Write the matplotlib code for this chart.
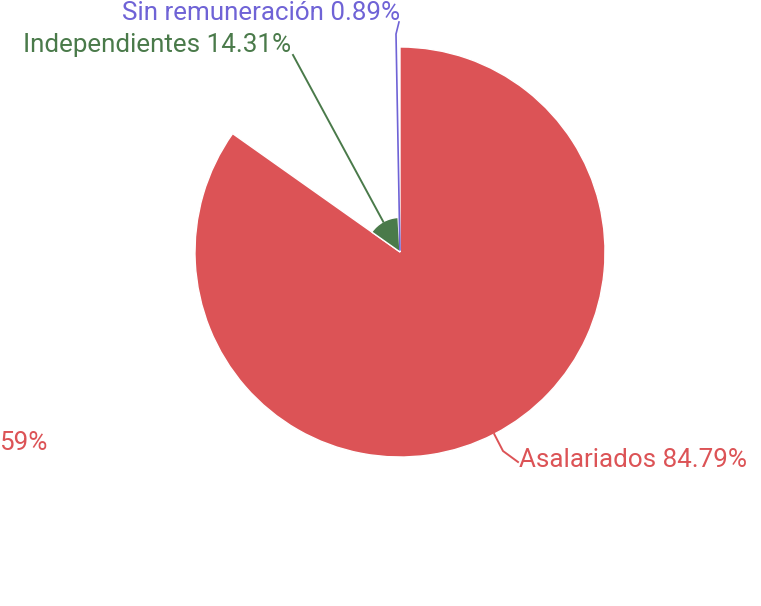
import numpy as np
import matplotlib.pyplot as plt
from matplotlib.patches import Wedge

plt.rcParams['font.family'] = ['Roboto', 'DejaVu Sans']

# data
labels = ["Asalariados", "Independientes", "Sin remuneración"]
values = [84.79, 14.31, 0.89]
colors = ["#dc5356", "#4a7a4a", "#6f63d6"]

W, H = 761, 606
fig = plt.figure(figsize=(W / 100, H / 100), dpi=100)
ax = fig.add_axes([0, 0, 1, 1])
ax.set_xlim(0, W)
ax.set_ylim(0, H)
ax.axis('off')

cx, cy = 400, H - 252
rmax = 205
total = sum(values)
scale = rmax / max(values)   # rose chart: radius follows value

start = 0.0
anchors = []
for lab, v, c in zip(labels, values, colors):
    span = v / total * 360
    r = v * scale
    # clockwise from 12 o'clock
    t2 = 90 - start
    t1 = 90 - start - span
    ax.add_patch(Wedge((cx, cy), r, t1, t2, facecolor=c, edgecolor='white', linewidth=1))
    mid = np.deg2rad(90 - start - span / 2)
    anchors.append((cx + r * np.cos(mid), cy + r * np.sin(mid)))
    start += span

fs = 18.7
# Asalariados label
ax_, ay_ = anchors[0]
ax.plot([ax_, 503, 518], [ay_, H - 451, H - 462], color=colors[0], lw=1.4)
ax.text(519, H - 460, f"{labels[0]} {values[0]:.2f}%", color=colors[0], fontsize=fs,
        ha='left', va='center')
# Independientes label
gx, gy = anchors[1]
ax.plot([gx, 293], [gy, H - 55], color=colors[1], lw=1.4)
ax.text(291, H - 45, f"{labels[1]} {values[1]:.2f}%", color=colors[1], fontsize=fs,
        ha='right', va='center')
# Sin remuneracion label
px, py = anchors[2]
ax.plot([px, 396, 399], [py, H - 34, H - 22], color=colors[2], lw=1.2)
ax.text(400, H - 13, f"{labels[2]} {values[2]:.2f}%", color=colors[2], fontsize=fs,
        ha='right', va='center')
# clipped label on the left edge
ax.text(-1, H - 443, "59%", color=colors[0], fontsize=fs, ha='left', va='center')

fig.savefig("out.png", dpi=100)
